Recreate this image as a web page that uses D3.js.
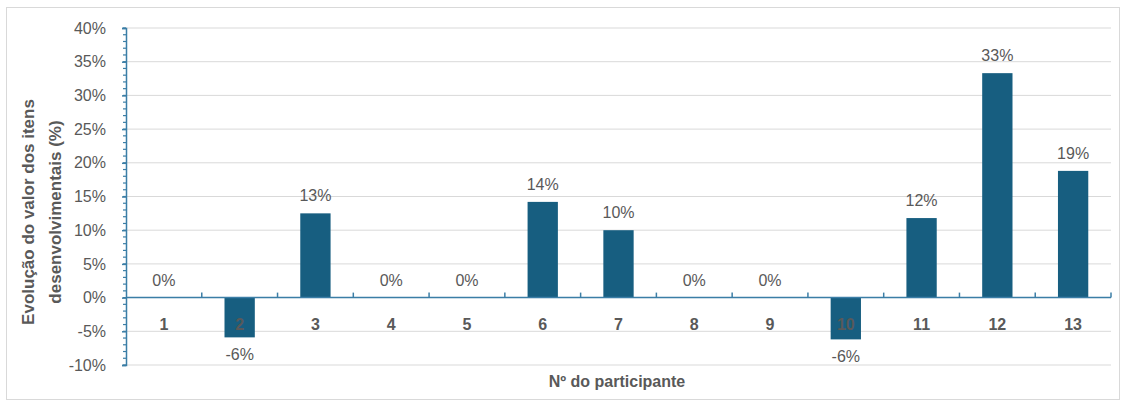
<!DOCTYPE html>
<html><head><meta charset="utf-8">
<script src="https://cdn.jsdelivr.net/npm/d3@7"></script>
<style>body{margin:0;background:#fff;font-family:"Liberation Sans",Arial,sans-serif;}</style>
</head><body>
<svg id="c" width="1123" height="403"></svg>
<script>
const categories = ["1","2","3","4","5","6","7","8","9","10","11","12","13"];
const values = [0, -0.059, 0.125, 0, 0, 0.142, 0.10, 0, 0, -0.062, 0.118, 0.333, 0.188];
const labels = ["0%","-6%","13%","0%","0%","14%","10%","0%","0%","-6%","12%","33%","19%"];
const yTicks = [-0.10,-0.05,0,0.05,0.10,0.15,0.20,0.25,0.30,0.35,0.40];
const yTitle = ["Evolução do valor dos itens","desenvolvimentais (%)"];
const xTitle = "Nº do participante";

const svg = d3.select("#c");
const L = 126, R = 1111, T = 28, B = 365;
const axisCol = "#3b7ea6", barCol = "#175e80", txt = "#595959";
const fmt = d => Math.round(d*100) + "%";

svg.append("rect").attr("x",6.5).attr("y",7.5).attr("width",1113).attr("height",392)
  .attr("fill","#fff").attr("stroke","#d9d9d9");

const y = d3.scaleLinear().domain([-0.10,0.40]).range([B,T]);
const x = d3.scaleBand().domain(categories).range([L,R]).paddingInner(0.6).paddingOuter(0.3);

svg.append("g").selectAll("line").data(yTicks).join("line")
  .attr("x1",L).attr("x2",R).attr("y1",d=>y(d)).attr("y2",d=>y(d))
  .attr("stroke","#d9d9d9").attr("stroke-width",1);

const yAxis = d3.axisLeft(y).tickValues(yTicks).tickFormat(fmt).tickSize(4).tickPadding(16);
const gy = svg.append("g").attr("transform",`translate(${L},0)`).call(yAxis);
gy.select(".domain").attr("stroke",axisCol).attr("stroke-width",1.5);
gy.selectAll(".tick line").attr("stroke",axisCol).attr("stroke-width",1.5);
gy.selectAll("text").attr("fill",txt).style("font-size","16px").style("font-family","Liberation Sans, Arial, sans-serif");
const minor = d3.range(-10,41,1).map(v=>v/100);
svg.append("g").selectAll("line").data(minor).join("line")
  .attr("x1",L-3).attr("x2",L).attr("y1",d=>y(d)).attr("y2",d=>y(d))
  .attr("stroke",axisCol).attr("stroke-width",1.2);

svg.append("g").selectAll("rect").data(values).join("rect")
  .attr("x",(d,i)=>x(categories[i])).attr("width",x.bandwidth())
  .attr("y",d=>y(Math.max(0,d))).attr("height",d=>Math.abs(y(d)-y(0)))
  .attr("fill",barCol);

svg.append("line").attr("x1",L).attr("x2",R).attr("y1",y(0)).attr("y2",y(0))
  .attr("stroke",axisCol).attr("stroke-width",1.5);
const bounds = d3.range(1,categories.length+1).map(i=>L+ (R-L)*i/categories.length);
svg.append("g").selectAll("line").data(bounds).join("line")
  .attr("x1",d=>d).attr("x2",d=>d).attr("y1",y(0)).attr("y2",y(0)-5)
  .attr("stroke",axisCol).attr("stroke-width",1.5);

svg.append("g").selectAll("text").data(categories).join("text")
  .attr("x",d=>x(d)+x.bandwidth()/2).attr("y",y(0)+32)
  .attr("text-anchor","middle").attr("fill",txt)
  .style("font-size","16px").style("font-weight","bold").text(d=>d);

svg.append("g").selectAll("text").data(values).join("text")
  .attr("x",(d,i)=>x(categories[i])+x.bandwidth()/2)
  .attr("y",d=> d<0 ? y(d)+23 : y(d)-12)
  .attr("text-anchor","middle").attr("fill",txt)
  .style("font-size","16px").text((d,i)=>labels[i]);

const yt = svg.append("text").attr("transform","translate(0,212) rotate(-90)")
  .attr("text-anchor","middle").attr("fill",txt).style("font-size","17px").style("font-weight","bold");
yt.selectAll("tspan").data(yTitle).join("tspan").attr("x",0).attr("y",(d,i)=> i===0?34:61).text(d=>d);

svg.append("text").attr("x",617).attr("y",387).attr("text-anchor","middle")
  .attr("fill",txt).style("font-size","16px").style("font-weight","bold").text(xTitle);
</script>
</body></html>
